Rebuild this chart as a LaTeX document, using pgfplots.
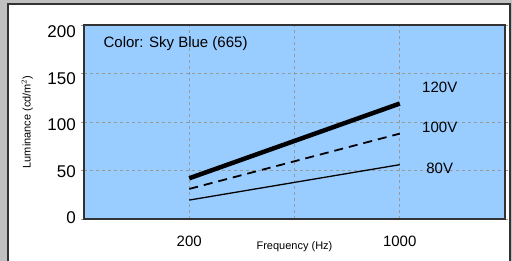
\documentclass[border=0pt]{standalone}
\usepackage{pgfplots}
\pgfplotsset{compat=1.18}
\usepackage{fontspec}
\setmainfont{Liberation Sans}
\definecolor{outergray}{HTML}{C0C0C0}
\definecolor{framedark}{HTML}{333333}
\definecolor{skyblue}{HTML}{99CCFF}
\definecolor{gridgray}{HTML}{999999}
\begin{document}
\begin{tikzpicture}[x=1pt,y=1pt]
\useasboundingbox (0,0) rectangle (512,-261);
\fill[outergray] (0,0) rectangle (512,-261);
\filldraw[fill=white, draw=framedark, line width=2pt] (8,-4) rectangle (510,-270);
\begin{axis}[
  at={(84pt,-219pt)}, anchor=south west,
  scale only axis, width=421pt, height=194pt,
  xmin=-200, xmax=1400, ymin=0, ymax=200,
  xtick={200,600,1000}, xticklabels={200,,1000},
  ytick={0,50,100,150,200},
  major tick length=3pt, tick align=outside,
  xtick style={draw=none},
  ytick style={gridgray, line width=0.8pt},
  grid=major,
  major grid style={gridgray, dash pattern=on 3pt off 3pt, line width=0.8pt},
  axis background/.style={fill=skyblue},
  axis line style={framedark, line width=1.5pt},
  /pgf/number format/assume math mode=true,
  xticklabel style={anchor=base, yshift=-25pt, font=\fontsize{15}{18}\selectfont},
  yticklabel style={anchor=east, inner sep=0pt, xshift=-5pt, yshift={1-2*\ticknum}, font=\fontsize{17}{20}\selectfont},
  xlabel={Frequency (Hz)},
  x label style={at={(axis description cs:0.5,0)}, anchor=center, yshift=-28pt, font=\fontsize{11}{13}\selectfont},
  ylabel={Luminance (cd/m$^2$)},
  y label style={at={(axis description cs:-0.135,0.5)}, anchor=center, font=\fontsize{11}{13}\selectfont},
  clip=false,
]
\addplot[black, line width=4.5pt] coordinates {(200,42) (1000,119)};
\addplot[black, line width=1.8pt, dash pattern=on 9pt off 6pt] coordinates {(200,31) (1000,88)};
\addplot[black, line width=1.3pt] coordinates {(200,19.5) (1000,56)};
\node[anchor=west, font=\fontsize{15}{18}\selectfont] at (axis cs:-139,181) {Color: Sky Blue (665)};
\node[font=\fontsize{15}{18}\selectfont] at (axis cs:1152,136) {120V};
\node[font=\fontsize{15}{18}\selectfont] at (axis cs:1152,94) {100V};
\node[font=\fontsize{15}{18}\selectfont] at (axis cs:1152,52) {80V};
\end{axis}
\end{tikzpicture}
\end{document}
